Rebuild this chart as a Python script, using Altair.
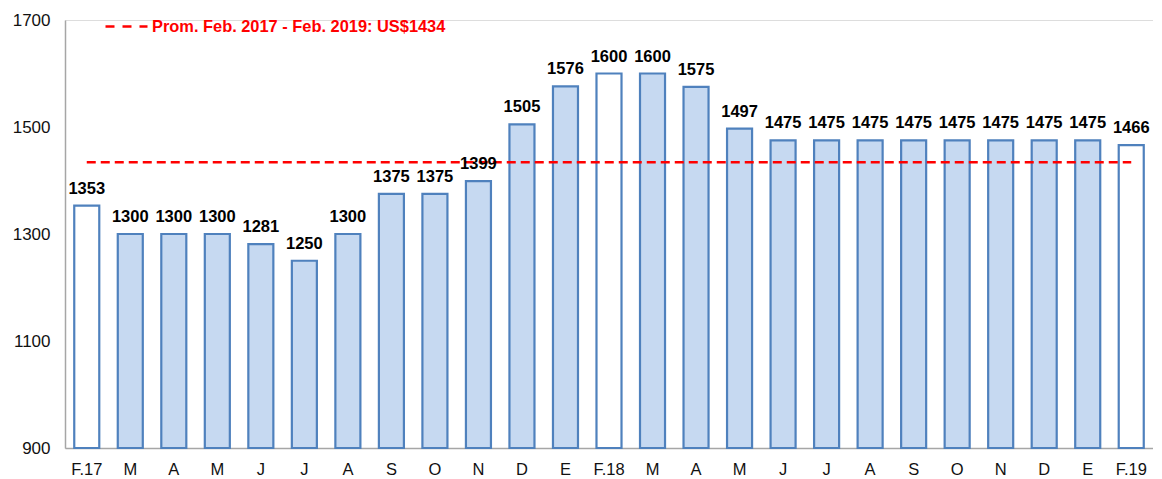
import altair as alt
import pandas as pd

months = ["F.17", "M", "A", "M", "J", "J", "A", "S", "O", "N", "D", "E", "F.18",
          "M", "A", "M", "J", "J", "A", "S", "O", "N", "D", "E", "F.19"]
prices = [1353, 1300, 1300, 1300, 1281, 1250, 1300, 1375, 1375, 1399, 1505, 1576, 1600,
          1600, 1575, 1497, 1475, 1475, 1475, 1475, 1475, 1475, 1475, 1475, 1466]
highlight = ["F.17", "F.18", "F.19"]
avg_value = 1434
avg_label = "Prom. Feb. 2017 - Feb. 2019: US$1434"
y_ticks = [900, 1100, 1300, 1500, 1700]

df = pd.DataFrame({
    "idx": list(range(len(months))),
    "mes": months,
    "precio": prices,
    "tipo": ["feb" if m in highlight else "otro" for m in months],
    "prom": [avg_value] * len(months),
    "serie": [avg_label] * len(months),
})

label_expr = "[" + ",".join("'%s'" % m for m in months) + "][datum.value]"

x = alt.X("idx:O", title=None,
          scale=alt.Scale(paddingInner=0.425, paddingOuter=0.2125),
          axis=alt.Axis(labelExpr=label_expr, labelAngle=0, ticks=False,
                        labelPadding=13, labelFontSize=16.5, labelFont="Liberation Sans",
                        labelColor="#111111", domainColor="#A6A6A6", domainWidth=1.5))
yscale = alt.Scale(domain=[900, 1700], nice=False, zero=False)

base = alt.Chart(df)

bars = base.mark_bar(stroke="#4F81BD", strokeWidth=2.2).encode(
    x=x,
    y=alt.Y("precio:Q", title=None, scale=yscale,
            axis=alt.Axis(values=y_ticks, format="d", ticks=False, grid=False,
                          labelPadding=15, labelFontSize=17, labelFont="Liberation Sans",
                          labelColor="#111111", domainColor="#A6A6A6", domainWidth=1.5)),
    y2=alt.datum(900),
    fill=alt.Fill("tipo:N", scale=alt.Scale(domain=["feb", "otro"],
                                            range=["#FFFFFF", "#C6D9F1"]),
                  legend=None),
)

line = base.mark_line(strokeDash=[9, 5], strokeWidth=2.5).encode(
    x=x,
    y=alt.Y("prom:Q", scale=yscale),
    stroke=alt.Stroke("serie:N", scale=alt.Scale(range=["#FF0000"]),
                      legend=alt.Legend(title=None, orient="none", legendX=39, legendY=-16,
                                        symbolType="stroke", symbolSize=1764,
                                        symbolStrokeWidth=2.5, symbolDash=[9, 8],
                                        labelColor="#FF0000", labelFontSize=16.4,
                                        labelFont="Liberation Sans",
                                        labelFontWeight="bold", labelOffset=3,
                                        padding=0, labelLimit=500)),
)

labels = base.mark_text(baseline="alphabetic", dy=-12, fontSize=16.5,
                        font="Liberation Sans", fontWeight="bold",
                        color="#000000").encode(
    x=x,
    y=alt.Y("precio:Q", scale=yscale),
    text=alt.Text("precio:Q"),
)

chart = alt.layer(bars, line, labels).properties(
    width=1088, height=428,
    autosize=alt.AutoSizeParams(type="none"),
    padding={"left": 57, "top": 12, "right": 0, "bottom": 30},
).configure_view(stroke=None).configure(background="white")

chart.save("out.html", embed_options={"renderer": "svg", "actions": False})
